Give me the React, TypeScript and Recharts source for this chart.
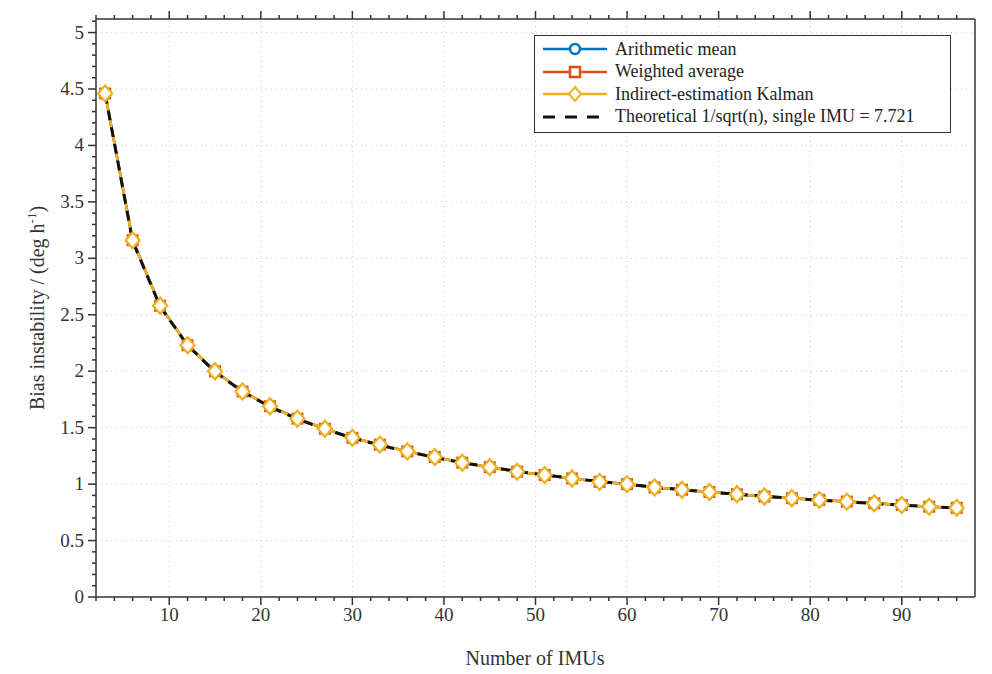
import React from "react";
import { ComposedChart, Line, XAxis, YAxis, ReferenceLine, Label } from "recharts";

const nImus = [3, 6, 9, 12, 15, 18, 21, 24, 27, 30, 33, 36, 39, 42, 45, 48, 51, 54, 57, 60, 63, 66, 69, 72, 75, 78, 81, 84, 87, 90, 93, 96];
const arithmetic = [4.46, 3.16, 2.58, 2.23, 2.0, 1.82, 1.69, 1.58, 1.49, 1.41, 1.35, 1.29, 1.24, 1.19, 1.15, 1.11, 1.08, 1.05, 1.02, 1.0, 0.97, 0.95, 0.93, 0.91, 0.89, 0.875, 0.86, 0.845, 0.83, 0.815, 0.8, 0.79];
const weighted = [4.46, 3.16, 2.58, 2.23, 2.0, 1.82, 1.69, 1.58, 1.49, 1.41, 1.35, 1.29, 1.24, 1.19, 1.15, 1.11, 1.08, 1.05, 1.02, 1.0, 0.97, 0.95, 0.93, 0.91, 0.89, 0.875, 0.86, 0.845, 0.83, 0.815, 0.8, 0.79];
const kalman = [4.46, 3.16, 2.58, 2.23, 2.0, 1.82, 1.69, 1.58, 1.49, 1.41, 1.35, 1.29, 1.24, 1.19, 1.15, 1.11, 1.08, 1.05, 1.02, 1.0, 0.97, 0.95, 0.93, 0.91, 0.89, 0.875, 0.86, 0.845, 0.83, 0.815, 0.8, 0.79];
const theoretical = [4.458, 3.152, 2.574, 2.229, 1.994, 1.82, 1.685, 1.576, 1.486, 1.41, 1.344, 1.287, 1.236, 1.191, 1.151, 1.114, 1.081, 1.051, 1.023, 0.997, 0.973, 0.95, 0.93, 0.91, 0.892, 0.874, 0.858, 0.842, 0.828, 0.814, 0.801, 0.788];

const xMajor = [10, 20, 30, 40, 50, 60, 70, 80, 90];
const yMajor = [0, 0.5, 1, 1.5, 2, 2.5, 3, 3.5, 4, 4.5, 5];
const xTicks = Array.from({ length: 48 }, (_, i) => 2 + i * 2);
const yTicks = Array.from({ length: 52 }, (_, i) => +(i * 0.1).toFixed(1));

const data = nImus.map((n, i) => ({ n, a: arithmetic[i], w: weighted[i], k: kalman[i], t: theoretical[i] }));

const FONT = "'Liberation Serif', 'DejaVu Serif', serif";
const AX = "#333";
const txt = { fontFamily: FONT, fontSize: 19, fill: "#333" };

const isMajor = (v: number, list: number[]) => list.some((m) => Math.abs(m - v) < 1e-6);

function MajorTick(props: any, list: number[], axis: "x" | "y") {
  const { x, y, payload } = props;
  const major = isMajor(payload.value, list);
  const len = major ? 8 : 4;
  if (axis === "x") {
    return (
      <g>
        <line x1={x} x2={x} y1={597} y2={597 + len} stroke={AX} strokeWidth={1.5} />
        {major && <text x={x} y={621} textAnchor="middle" style={txt}>{payload.value}</text>}
      </g>
    );
  }
  return (
    <g>
      <line x1={96} x2={96 - len} y1={y} y2={y} stroke={AX} strokeWidth={1.5} />
      {major && <text x={84} y={y + 6} textAnchor="end" style={txt}>{payload.value}</text>}
    </g>
  );
}

function BoxTick(props: any, list: number[], axis: "top" | "right") {
  const { x, y, payload } = props;
  const len = isMajor(payload.value, list) ? 8 : 4;
  if (axis === "top") return <line x1={x} x2={x} y1={19} y2={19 - len} stroke={AX} strokeWidth={1.5} />;
  return <line x1={975} x2={975 + len} y1={y} y2={y} stroke={AX} strokeWidth={1.5} />;
}

const circle = (p: any) => <circle key={p.index} cx={p.cx} cy={p.cy} r={5} fill="#fff" stroke="#0072BD" strokeWidth={2} />;
const square = (p: any) => <rect key={p.index} x={p.cx - 5} y={p.cy - 5} width={10} height={10} fill="#fff" stroke="#D95319" strokeWidth={2} />;
const diamond = (p: any) => (
  <path key={p.index} d={`M${p.cx},${p.cy - 8}L${p.cx + 7},${p.cy}L${p.cx},${p.cy + 8}L${p.cx - 7},${p.cy}Z`} fill="#fff" stroke="#EDB120" strokeWidth={2.2} />
);

function LegendBox() {
  const rows = [
    { label: "Arithmetic mean", color: "#0072BD", m: "o" },
    { label: "Weighted average", color: "#D95319", m: "s" },
    { label: "Indirect-estimation Kalman", color: "#EDB120", m: "d" },
    { label: "Theoretical 1/sqrt(n), single IMU = 7.721", color: "#111", m: "-" },
  ];
  return (
    <div style={{ position: "absolute", left: 534, top: 35, width: 417, height: 98, border: "1.5px solid #333", background: "#fff", boxSizing: "border-box", padding: "2px 6px", fontFamily: FONT, fontSize: 18, color: "#222" }}>
      {rows.map((r) => (
        <div key={r.label} style={{ display: "flex", alignItems: "center", height: 22.5 }}>
          <svg width={70} height={20} style={{ marginRight: 4 }}>
            {r.m === "-" ? (
              <line x1={2} x2={66} y1={10} y2={10} stroke={r.color} strokeWidth={3} strokeDasharray="12 10" />
            ) : (
              <line x1={2} x2={66} y1={10} y2={10} stroke={r.color} strokeWidth={2.5} />
            )}
            {r.m === "o" && <circle cx={34} cy={10} r={5} fill="#fff" stroke={r.color} strokeWidth={2.5} />}
            {r.m === "s" && <rect x={29} y={5} width={10} height={10} fill="#fff" stroke={r.color} strokeWidth={2.5} />}
            {r.m === "d" && <path d="M34,3L40,10L34,17L28,10Z" fill="#fff" stroke={r.color} strokeWidth={2} />}
          </svg>
          <span>{r.label}</span>
        </div>
      ))}
    </div>
  );
}

export default function App() {
  return (
    <div style={{ position: "absolute", left: 0, top: 0, width: 992, height: 674, background: "#fff" }}>
      <ComposedChart width={992} height={674} data={data} margin={{ top: 9, right: 7, bottom: 37, left: 46 }}>
        <XAxis xAxisId="b" dataKey="n" type="number" domain={[2, 98]} ticks={xTicks} interval={0} axisLine={{ stroke: AX, strokeWidth: 1.5 }} tickLine={false} tick={(p: any) => MajorTick(p, xMajor, "x")} height={40}>
          <Label content={() => (
            <text x={535} y={665} textAnchor="middle" style={{ ...txt, fontSize: 20 }}>Number of IMUs</text>
          )} />
        </XAxis>
        <XAxis xAxisId="t" orientation="top" dataKey="n" type="number" domain={[2, 98]} ticks={xTicks} interval={0} axisLine={{ stroke: AX, strokeWidth: 1.5 }} tickLine={false} tick={(p: any) => BoxTick(p, xMajor, "top")} height={10} />
        <YAxis yAxisId="l" type="number" domain={[0, 5.12]} ticks={yTicks} interval={0} axisLine={{ stroke: AX, strokeWidth: 1.5 }} tickLine={false} tick={(p: any) => MajorTick(p, yMajor, "y")} width={50}>
          <Label content={() => (
            <text transform="translate(44,308) rotate(-90)" textAnchor="middle" style={{ ...txt, fontSize: 20 }}>
              Bias instability / (deg h<tspan dy={-8} style={{ fontSize: 13 }}>-1</tspan><tspan dy={8}>)</tspan>
            </text>
          )} />
        </YAxis>
        <YAxis yAxisId="r" orientation="right" type="number" domain={[0, 5.12]} ticks={yTicks} interval={0} axisLine={{ stroke: AX, strokeWidth: 1.5 }} tickLine={false} tick={(p: any) => BoxTick(p, yMajor, "right")} width={10} />
        {xMajor.map((v) => (
          <ReferenceLine key={"x" + v} xAxisId="b" yAxisId="l" x={v} stroke="#ccc" strokeDasharray="1 4" />
        ))}
        {yMajor.filter((v) => v > 0).map((v) => (
          <ReferenceLine key={"y" + v} xAxisId="b" yAxisId="l" y={v} stroke="#ccc" strokeDasharray="1 4" />
        ))}
        <Line xAxisId="b" yAxisId="l" dataKey="a" stroke="#0072BD" strokeWidth={2.5} dot={circle} isAnimationActive={false} />
        <Line xAxisId="b" yAxisId="l" dataKey="w" stroke="#D95319" strokeWidth={2.5} dot={square} isAnimationActive={false} />
        <Line xAxisId="b" yAxisId="l" dataKey="k" stroke="#EDB120" strokeWidth={2.5} dot={diamond} isAnimationActive={false} />
        <Line xAxisId="b" yAxisId="l" dataKey="t" stroke="#111" strokeWidth={3} strokeDasharray="10 7" dot={false} isAnimationActive={false} />
      </ComposedChart>
      <LegendBox />
    </div>
  );
}
